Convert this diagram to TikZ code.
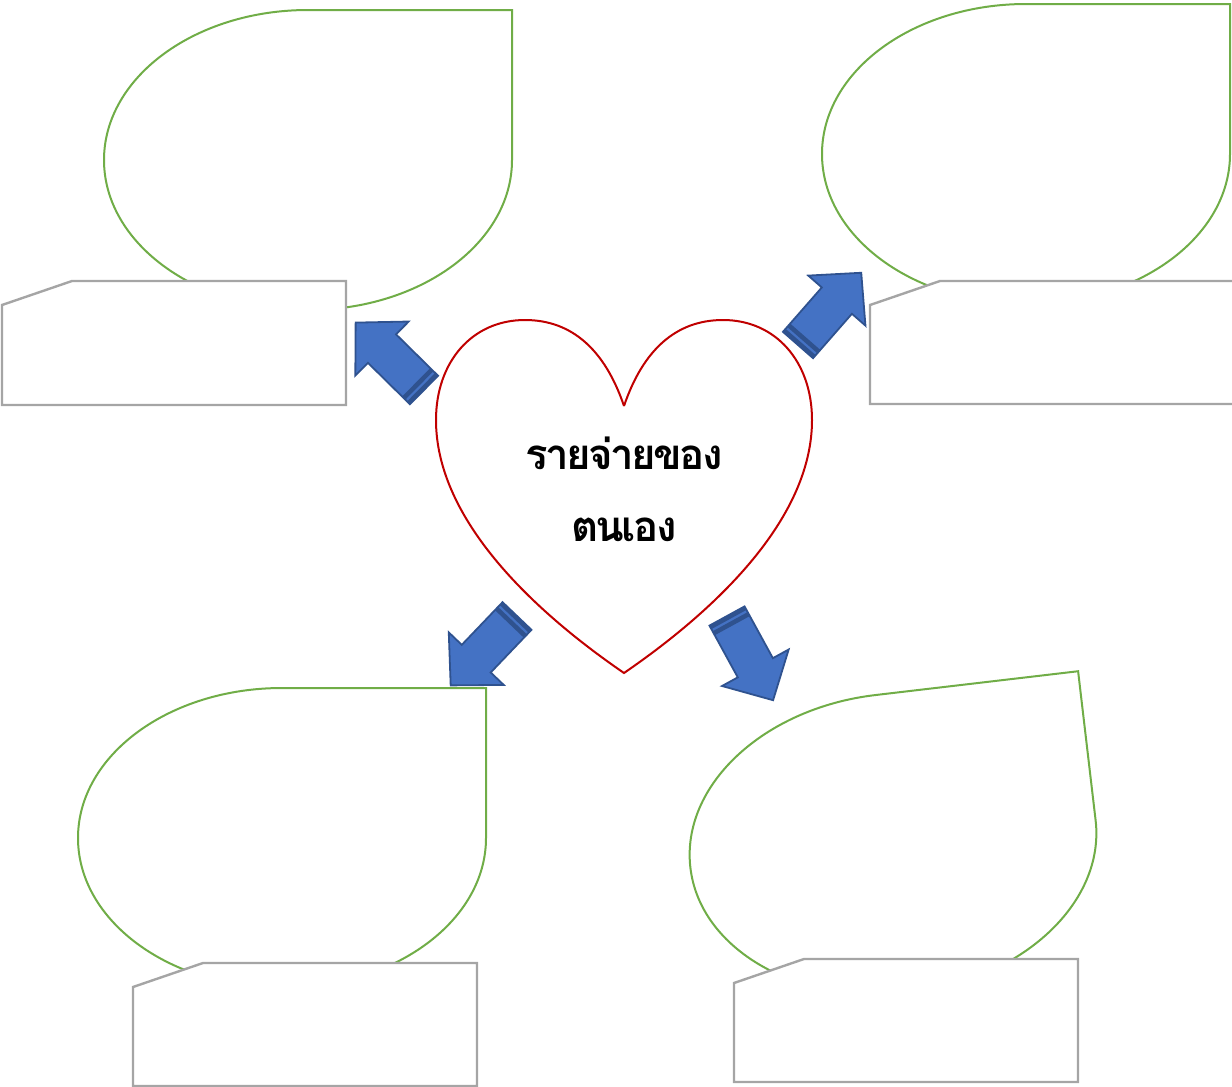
\documentclass[tikz,border=0pt]{standalone}
\usepackage{fontspec}
\newfontfamily\thaifont[Script=Thai, LetterSpace=-6]{Loma}
\definecolor{tgreen}{HTML}{70AD47}
\definecolor{bgray}{HTML}{A5A5A5}
\definecolor{hred}{HTML}{C00000}
\definecolor{afill}{HTML}{4472C4}
\definecolor{aline}{HTML}{2F528F}
\tikzset{
  tear/.style={draw=tgreen, line width=1pt, fill=white},
  snipbox/.style={draw=bgray, line width=1.2pt, fill=white},
  heartline/.style={draw=hred, line width=1pt},
  arrowbody/.style={fill=afill, draw=aline, line width=0.9pt, line join=miter},
  stripe/.style={fill=aline},
}
\newcommand{\teardropat}[2]{%
  \draw[tear] (#1,#2-150) -- (#1+204,#2-150) -- (#1+204,#2)
    arc[start angle=0, end angle=270, x radius=204, y radius=150] -- cycle;}
\newcommand{\snipboxat}[4]{% x1 y1 x2 y2
  \draw[snipbox] (#1,#2+24) -- (#1+70,#2) -- (#3,#2) -- (#3,#4) -- (#1,#4) -- cycle;}
\newcommand{\stripearrow}[2]{% tail, angle
  \begin{scope}[shift={(#1)}, rotate=#2]
    \draw[arrowbody] (0,-20) -- (59,-20) -- (59,-38) -- (96,0) -- (59,38) -- (59,20) -- (0,20) -- cycle;
    \fill[stripe] (0,-20) rectangle (4,20);
    \fill[stripe] (6.5,-20) rectangle (11,20);
  \end{scope}}
\begin{document}
\begin{tikzpicture}[x=0.5pt,y=-0.5pt]
\useasboundingbox (0,0) rectangle (1232,1087);
% teardrops
\teardropat{308}{160}
\teardropat{1026}{154}
\teardropat{282}{838}
\begin{scope}[rotate around={6.7:(893,844)}]
  \teardropat{893}{844}
\end{scope}
% snip boxes
\snipboxat{2}{281}{346}{405}
\snipboxat{870}{281}{1240}{404}
\snipboxat{133}{963}{477}{1086}
\snipboxat{734}{959}{1078}{1082}
% heart
\draw[heartline] (624,406) .. controls (605,350) and (572,320) .. (525,320)
  .. controls (472,320) and (436,362) .. (436,420)
  .. controls (436,515) and (525,605) .. (624,673)
  .. controls (723,605) and (812,515) .. (812,420)
  .. controls (812,362) and (776,320) .. (723,320)
  .. controls (676,320) and (643,350) .. (624,406);
\node[font=\thaifont\bfseries\fontsize{21}{36}\selectfont, align=center, text=black] (heart) at (624,489) {รายจ่ายของ\\ตนเอง};
% arrows
\stripearrow{424,390}{135.4}
\stripearrow{798,345}{48.8}
\stripearrow{517,616}{226.3}
\stripearrow{727,616}{-61.3}
\end{tikzpicture}
\end{document}
